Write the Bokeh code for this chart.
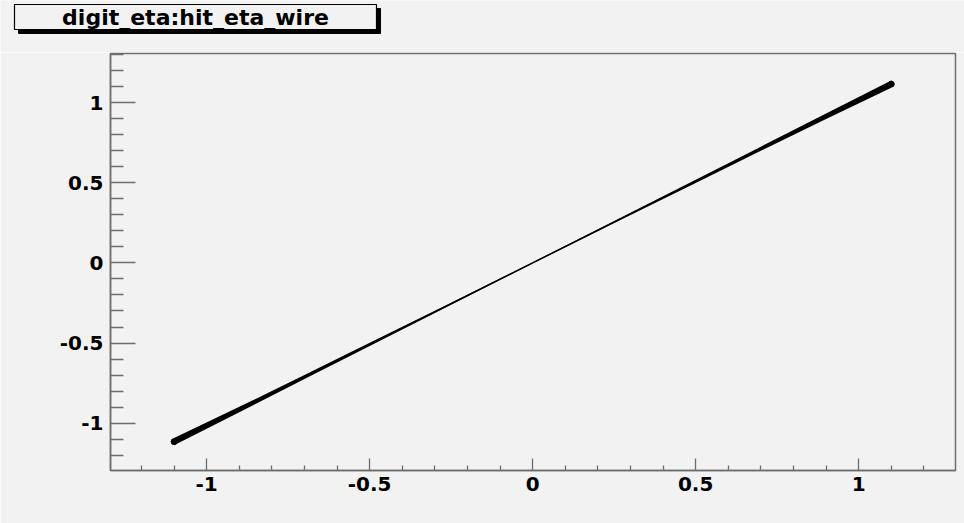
from bokeh.plotting import figure
from bokeh.models import Range1d, FixedTicker
from bokeh.layouts import column
from bokeh.core.properties import value
from bokeh.embed import file_html
from bokeh.resources import INLINE

# ---- data ----
title_text = "digit_eta:hit_eta_wire"
hit_eta = [-1.1, -0.9, -0.7, -0.5, -0.3, -0.1, 0.0, 0.1, 0.3, 0.5, 0.7, 0.9, 1.1]
digit_eta_lo = [-1.137, -0.932, -0.725, -0.518, -0.312, -0.107, -0.004, 0.097, 0.298, 0.498, 0.699, 0.898, 1.093]
digit_eta_hi = [-1.093, -0.898, -0.699, -0.498, -0.298, -0.097, 0.004, 0.107, 0.312, 0.518, 0.725, 0.932, 1.137]

x_tick_values = [-1.0, -0.5, 0.0, 0.5, 1.0]
x_tick_labels = ["-1", "-0.5", "0", "0.5", "1"]
x_minor_values = [-1.2, -1.1, -0.9, -0.8, -0.7, -0.6, -0.4, -0.3, -0.2, -0.1,
                  0.1, 0.2, 0.3, 0.4, 0.6, 0.7, 0.8, 0.9, 1.1, 1.2]
y_tick_values = [-1.0, -0.5, 0.0, 0.5, 1.0]
y_tick_labels = ["-1", "-0.5", "0", "0.5", "1"]
y_minor_values = [-1.2, -1.1, -0.9, -0.8, -0.7, -0.6, -0.4, -0.3, -0.2, -0.1,
                  0.1, 0.2, 0.3, 0.4, 0.6, 0.7, 0.8, 0.9, 1.1, 1.2, 1.3]

BG = "#f2f2f2"
AXC = "#6e6e6e"
FONT = "DejaVu Sans"
W = 964
TITLE_H = 52

# ---- title strip (ROOT-style title box with drop shadow), pixel coordinates ----
t = figure(width=W, height=TITLE_H, output_backend="svg", toolbar_location=None,
           x_range=Range1d(0, W), y_range=Range1d(TITLE_H, 0),
           x_axis_type=None, y_axis_type=None, frame_align=False,
           min_border_left=0, min_border_right=0, min_border_top=0, min_border_bottom=0)
t.background_fill_color = BG
t.border_fill_color = BG
t.outline_line_color = None
t.xgrid.visible = False
t.ygrid.visible = False
t.quad(left=[18], right=[380], top=[8], bottom=[33], fill_color="black", line_color="black")
t.quad(left=[14], right=[376], top=[4], bottom=[29], fill_color=BG, fill_alpha=1.0,
       line_color="black", line_width=1.2)
t.text(x=[195], y=[17], text=[title_text], text_align="center", text_baseline="middle",
       text_font=value(FONT), text_font_style="bold", text_font_size="22px", text_color="black")

# ---- main plot ----
p = figure(width=W, height=523 - TITLE_H, output_backend="svg", toolbar_location=None,
           x_range=Range1d(-1.295, 1.297), y_range=Range1d(-1.295, 1.306),
           min_border_left=110, min_border_right=9, min_border_top=1, min_border_bottom=53,
           frame_align=False)

p.background_fill_color = BG
p.border_fill_color = BG
p.outline_line_color = AXC
p.outline_line_width = 1.5
p.xgrid.visible = False
p.ygrid.visible = False

# data band
p.varea(x=hit_eta, y1=digit_eta_lo, y2=digit_eta_hi, fill_color="black")
mid = [(a + b) / 2 for a, b in zip(digit_eta_lo, digit_eta_hi)]
p.line(x=hit_eta, y=mid, line_color="black", line_width=1.4, line_cap="round")
p.scatter(x=[hit_eta[0], hit_eta[-1]], y=[mid[0], mid[-1]], size=6, color="black")

# axes
for ax, tv, tl, mv in ((p.xaxis[0], x_tick_values, x_tick_labels, x_minor_values),
                       (p.yaxis[0], y_tick_values, y_tick_labels, y_minor_values)):
    ax.ticker = FixedTicker(ticks=tv, minor_ticks=mv)
    ax.major_label_overrides = {v: l for v, l in zip(tv, tl)}
    ax.axis_line_color = AXC
    ax.axis_line_width = 1.5
    ax.major_tick_line_color = AXC
    ax.minor_tick_line_color = AXC
    ax.major_tick_line_width = 1.3
    ax.minor_tick_line_width = 1.3
    ax.major_tick_out = 0
    ax.minor_tick_out = 0
    ax.major_label_text_font = FONT
    ax.major_label_text_font_style = "bold"
    ax.major_label_text_font_size = "20px"
    ax.major_label_text_color = "black"

p.xaxis.major_tick_in = 12
p.xaxis.minor_tick_in = 5
p.xaxis.major_label_standoff = 6
p.yaxis.major_tick_in = 25
p.yaxis.minor_tick_in = 13
p.yaxis.major_label_standoff = 7

layout = column(t, p, spacing=0)
open("out.html", "w").write(file_html(layout, INLINE))
